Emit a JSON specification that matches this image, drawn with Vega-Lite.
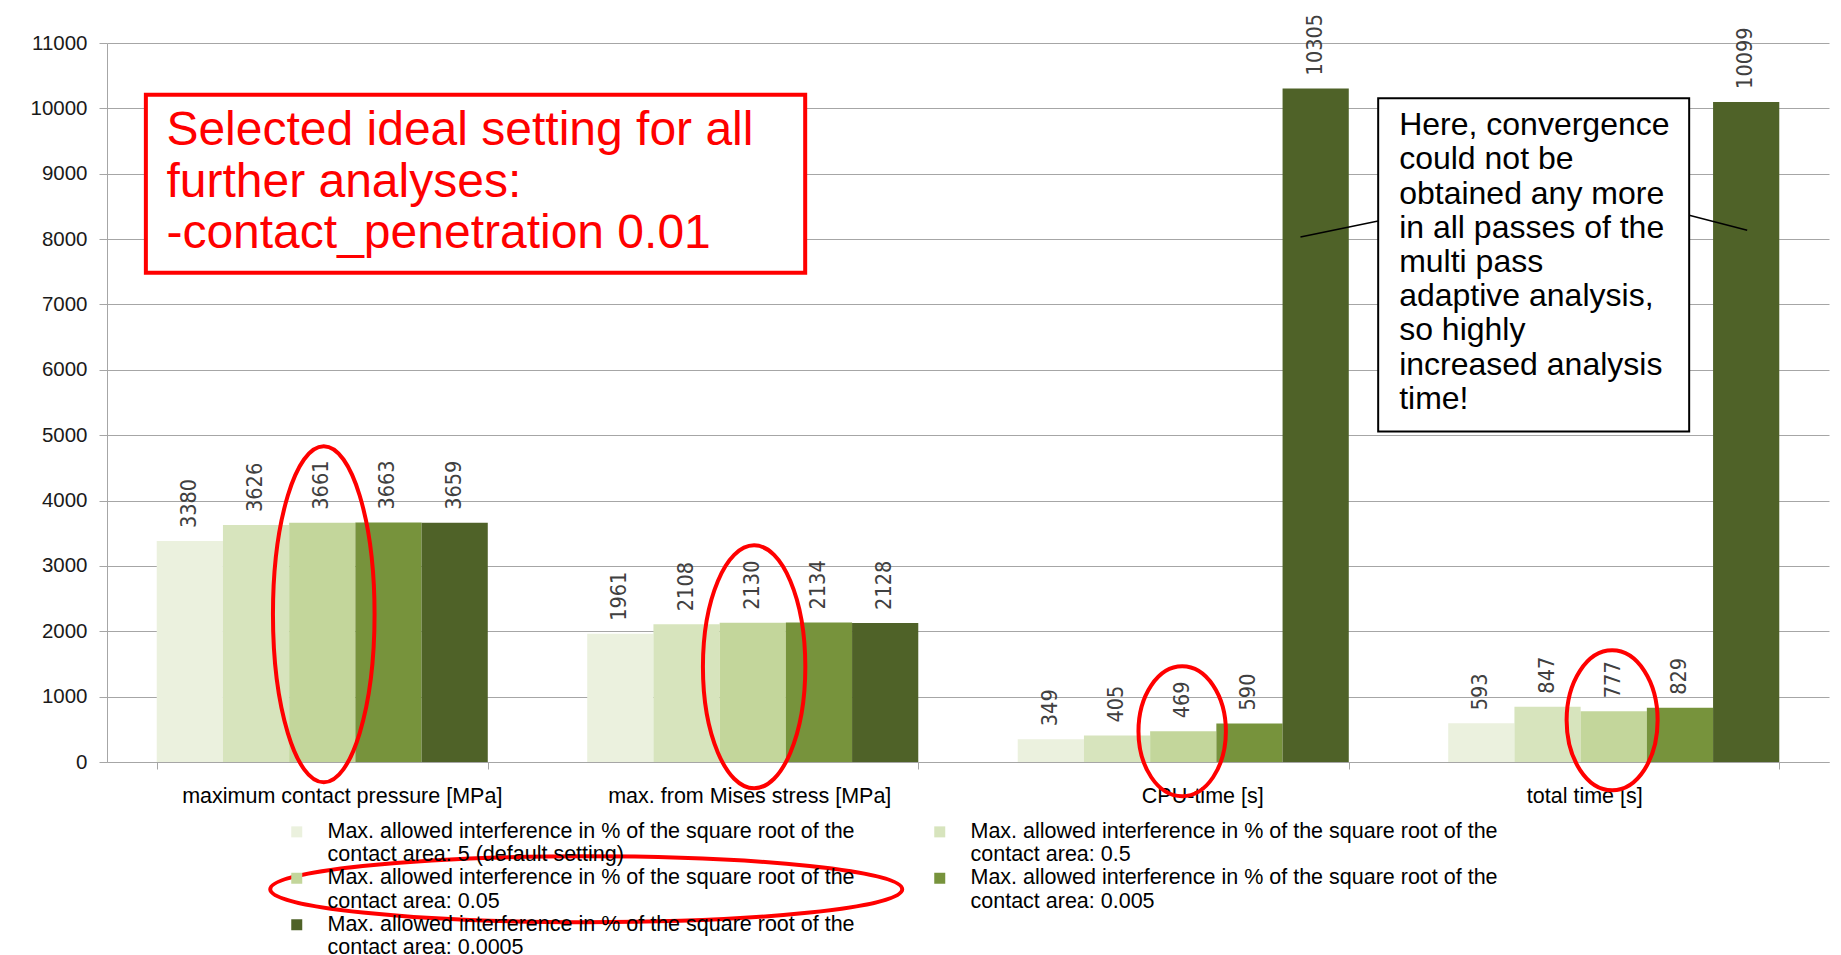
{
  "$schema": "https://vega.github.io/schema/vega-lite/v6.json",
  "width": 1722,
  "height": 719,
  "autosize": {"type": "none"},
  "padding": {"left": 107, "top": 43, "right": 12, "bottom": 193},
  "background": "white",
  "config": {"view": {"stroke": null}},
  "resolve": {"scale": {"x": "independent"}, "axis": {"y": "independent"}},
  "layer": [
    {
      "data": {"values": [
        {"metric": "maximum contact pressure [MPa]", "setting": "Max. allowed interference in % of the square root of the contact area: 5 (default setting)", "value": 3380},
        {"metric": "maximum contact pressure [MPa]", "setting": "Max. allowed interference in % of the square root of the contact area: 0.5", "value": 3626},
        {"metric": "maximum contact pressure [MPa]", "setting": "Max. allowed interference in % of the square root of the contact area: 0.05", "value": 3661},
        {"metric": "maximum contact pressure [MPa]", "setting": "Max. allowed interference in % of the square root of the contact area: 0.005", "value": 3663},
        {"metric": "maximum contact pressure [MPa]", "setting": "Max. allowed interference in % of the square root of the contact area: 0.0005", "value": 3659},
        {"metric": "max. from Mises stress [MPa]", "setting": "Max. allowed interference in % of the square root of the contact area: 5 (default setting)", "value": 1961},
        {"metric": "max. from Mises stress [MPa]", "setting": "Max. allowed interference in % of the square root of the contact area: 0.5", "value": 2108},
        {"metric": "max. from Mises stress [MPa]", "setting": "Max. allowed interference in % of the square root of the contact area: 0.05", "value": 2130},
        {"metric": "max. from Mises stress [MPa]", "setting": "Max. allowed interference in % of the square root of the contact area: 0.005", "value": 2134},
        {"metric": "max. from Mises stress [MPa]", "setting": "Max. allowed interference in % of the square root of the contact area: 0.0005", "value": 2128},
        {"metric": "CPU-time [s]", "setting": "Max. allowed interference in % of the square root of the contact area: 5 (default setting)", "value": 349},
        {"metric": "CPU-time [s]", "setting": "Max. allowed interference in % of the square root of the contact area: 0.5", "value": 405},
        {"metric": "CPU-time [s]", "setting": "Max. allowed interference in % of the square root of the contact area: 0.05", "value": 469},
        {"metric": "CPU-time [s]", "setting": "Max. allowed interference in % of the square root of the contact area: 0.005", "value": 590},
        {"metric": "CPU-time [s]", "setting": "Max. allowed interference in % of the square root of the contact area: 0.0005", "value": 10305},
        {"metric": "total time [s]", "setting": "Max. allowed interference in % of the square root of the contact area: 5 (default setting)", "value": 593},
        {"metric": "total time [s]", "setting": "Max. allowed interference in % of the square root of the contact area: 0.5", "value": 847},
        {"metric": "total time [s]", "setting": "Max. allowed interference in % of the square root of the contact area: 0.05", "value": 777},
        {"metric": "total time [s]", "setting": "Max. allowed interference in % of the square root of the contact area: 0.005", "value": 829},
        {"metric": "total time [s]", "setting": "Max. allowed interference in % of the square root of the contact area: 0.0005", "value": 10099}
      ]},
      "encoding": {
        "x": {
          "field": "metric", "type": "nominal",
          "sort": ["maximum contact pressure [MPa]", "max. from Mises stress [MPa]", "CPU-time [s]", "total time [s]"],
          "scale": {"paddingInner": 0.231, "paddingOuter": 0.1155},
          "axis": {
            "title": null, "labelAngle": 0, "tickBand": "extent", "tickSize": 7, "tickColor": "#A6A6A6",
            "domainColor": "#A6A6A6", "labelFont": "Liberation Sans", "labelFontSize": 21.5, "labelColor": "#000000",
            "labelPadding": 16, "labelLimit": 600,
            "labelOffset": {"expr": "datum.value == 'maximum contact pressure [MPa]' ? 19.5 : datum.value == 'max. from Mises stress [MPa]' ? -3.5 : datum.value == 'CPU-time [s]' ? 19 : -29.5"}
          }
        },
        "xOffset": {
          "field": "setting", "type": "nominal",
          "sort": [
            "Max. allowed interference in % of the square root of the contact area: 5 (default setting)",
            "Max. allowed interference in % of the square root of the contact area: 0.5",
            "Max. allowed interference in % of the square root of the contact area: 0.05",
            "Max. allowed interference in % of the square root of the contact area: 0.005",
            "Max. allowed interference in % of the square root of the contact area: 0.0005"
          ],
          "scale": {"paddingInner": 0, "paddingOuter": 0}
        },
        "y": {
          "field": "value", "type": "quantitative",
          "scale": {"domain": [0, 11000], "nice": false, "zero": true},
          "axis": {
            "title": null, "values": [0,1000,2000,3000,4000,5000,6000,7000,8000,9000,10000,11000],
            "grid": true, "gridColor": "#A6A6A6", "gridWidth": 1, "tickSize": 8, "tickColor": "#A6A6A6",
            "domainColor": "#A6A6A6", "labelFont": "Liberation Sans", "labelFontSize": 20.5, "labelColor": "#1a1a1a",
            "labelPadding": 12, "format": "d"
          }
        }
      },
      "layer": [
        {
          "mark": {"type": "bar"},
          "encoding": {
            "color": {
              "field": "setting", "type": "nominal",
              "scale": {
                "domain": [
                  "Max. allowed interference in % of the square root of the contact area: 5 (default setting)",
                  "Max. allowed interference in % of the square root of the contact area: 0.05",
                  "Max. allowed interference in % of the square root of the contact area: 0.0005",
                  "Max. allowed interference in % of the square root of the contact area: 0.5",
                  "Max. allowed interference in % of the square root of the contact area: 0.005"
                ],
                "range": ["#EBF1DE", "#C3D69B", "#4F6228", "#D7E4BD", "#77933C"]
              },
              "legend": {
                "title": null, "orient": "none", "legendX": 179, "legendY": 778, "columns": 2,
                "symbolType": "square", "symbolSize": 121, "symbolStrokeWidth": 0,
                "labelFont": "Liberation Sans", "labelFontSize": 21.5, "labelColor": "#000000",
                "labelLimit": 800, "labelOffset": 20, "columnPadding": 74, "rowPadding": 0.5, "padding": 0,
                "labelExpr": "['Max. allowed interference in % of the square root of the', 'contact area: ' + split(datum.label, 'contact area: ')[1]]"
              }
            }
          }
        },
        {
          "mark": {"type": "text", "angle": 270, "align": "left", "baseline": "middle", "dx": 13,
                   "font": "DejaVu Sans Condensed, DejaVu Sans", "fontSize": 21.5, "color": "#404040"},
          "encoding": {"text": {"field": "value", "type": "quantitative", "format": "d"}}
        }
      ]
    },
    {
      "data": {"values": [
        {"x1": 0.0903, "x2": 1.6218, "y1": 10207, "y2": 7484}
      ]},
      "mark": {"type": "rect", "fill": "white", "stroke": "#FF0000", "strokeWidth": 4},
      "encoding": {
        "x": {"field": "x1", "type": "quantitative", "scale": {"domain": [0, 4], "nice": false, "zero": false}, "axis": null},
        "x2": {"field": "x2"},
        "y": {"field": "y1", "type": "quantitative", "scale": {"domain": [0, 11000], "nice": false}, "axis": null},
        "y2": {"field": "y2"}
      }
    },
    {
      "data": {"values": [
        {"pos": 0.138, "val": 9435, "note": "Selected ideal setting for all\nfurther analyses:\n-contact_penetration 0.01"}
      ]},
      "mark": {"type": "text", "align": "left", "baseline": "alphabetic", "lineBreak": "\n", "lineHeight": 51.5,
               "font": "Liberation Sans", "fontSize": 48, "color": "#FF0000"},
      "encoding": {
        "x": {"field": "pos", "type": "quantitative", "scale": {"domain": [0, 4], "nice": false, "zero": false}, "axis": null},
        "y": {"field": "val", "type": "quantitative", "scale": {"domain": [0, 11000], "nice": false}, "axis": null},
        "text": {"field": "note"}
      }
    },
    {
      "data": {"values": [
        {"x1": 2.7723, "x2": 2.9528, "y1": 8032, "y2": 8277},
        {"x1": 3.6752, "x2": 3.8100, "y1": 8364, "y2": 8134}
      ]},
      "mark": {"type": "rule", "color": "#000000", "strokeWidth": 1.5},
      "encoding": {
        "x": {"field": "x1", "type": "quantitative", "scale": {"domain": [0, 4], "nice": false, "zero": false}, "axis": null},
        "x2": {"field": "x2"},
        "y": {"field": "y1", "type": "quantitative", "scale": {"domain": [0, 11000], "nice": false}, "axis": null},
        "y2": {"field": "y2"}
      }
    },
    {
      "data": {"values": [
        {"x1": 2.9528, "x2": 3.6752, "y1": 10154, "y2": 5055}
      ]},
      "mark": {"type": "rect", "fill": "white", "stroke": "#000000", "strokeWidth": 2},
      "encoding": {
        "x": {"field": "x1", "type": "quantitative", "scale": {"domain": [0, 4], "nice": false, "zero": false}, "axis": null},
        "x2": {"field": "x2"},
        "y": {"field": "y1", "type": "quantitative", "scale": {"domain": [0, 11000], "nice": false}, "axis": null},
        "y2": {"field": "y2"}
      }
    },
    {
      "data": {"values": [
        {"pos": 3.0015, "val": 9588, "note": "Here, convergence\ncould not be\nobtained any more\nin all passes of the\nmulti pass\nadaptive analysis,\nso highly\nincreased analysis\ntime!"}
      ]},
      "mark": {"type": "text", "align": "left", "baseline": "alphabetic", "lineBreak": "\n", "lineHeight": 34.2,
               "font": "Liberation Sans", "fontSize": 32, "color": "#000000"},
      "encoding": {
        "x": {"field": "pos", "type": "quantitative", "scale": {"domain": [0, 4], "nice": false, "zero": false}, "axis": null},
        "y": {"field": "val", "type": "quantitative", "scale": {"domain": [0, 11000], "nice": false}, "axis": null},
        "text": {"field": "note"}
      }
    },
    {
      "data": {"values": [
        {"id": "e1", "pos": 0.5035, "val": 2260},
        {"id": "e2", "pos": 1.5032, "val": 1456},
        {"id": "e3", "pos": 2.4975, "val": 470},
        {"id": "e4", "pos": 3.4962, "val": 638},
        {"id": "e5", "pos": 1.1132, "val": -1947}
      ]},
      "mark": {"type": "point", "filled": false, "size": 4, "stroke": "#FF0000", "strokeWidth": 4, "opacity": 1},
      "encoding": {
        "x": {"field": "pos", "type": "quantitative", "scale": {"domain": [0, 4], "nice": false, "zero": false}, "axis": null},
        "y": {"field": "val", "type": "quantitative", "scale": {"domain": [0, 11000], "nice": false}, "axis": null},
        "shape": {
          "field": "id", "type": "nominal", "legend": null,
          "scale": {
            "domain": ["e1", "e2", "e3", "e4", "e5"],
            "range": [
              "M -50.8 0 A 50.8 168 0 1 1 50.8 0 A 50.8 168 0 1 1 -50.8 0 Z",
              "M -51.2 0 A 51.2 121.5 0 1 1 51.2 0 A 51.2 121.5 0 1 1 -51.2 0 Z",
              "M -43.7 0 A 43.7 65 0 1 1 43.7 0 A 43.7 65 0 1 1 -43.7 0 Z",
              "M -45.5 0 A 45.5 70 0 1 1 45.5 0 A 45.5 70 0 1 1 -45.5 0 Z",
              "M -316 0 A 316 33 0 1 1 316 0 A 316 33 0 1 1 -316 0 Z"
            ]
          }
        }
      }
    }
  ]
}
